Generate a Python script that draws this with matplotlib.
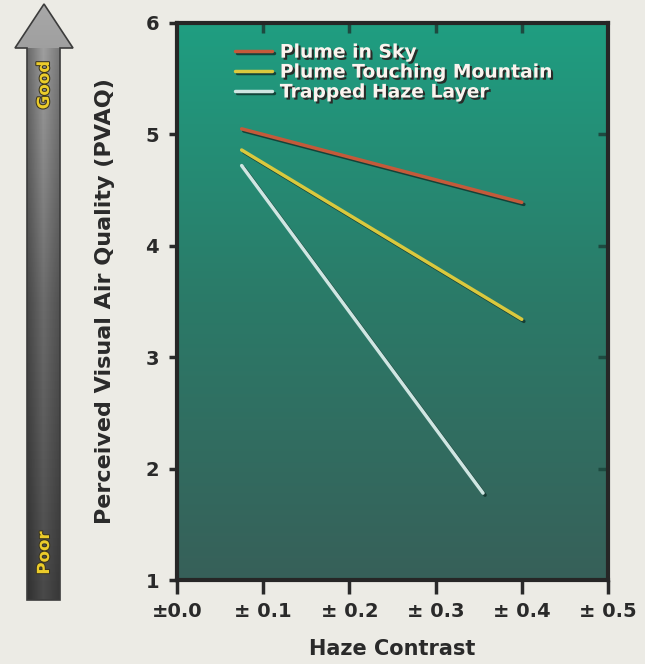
import numpy as np
import matplotlib.pyplot as plt
import matplotlib.patheffects as pe
from matplotlib.patches import Polygon
from matplotlib.colors import LinearSegmentedColormap

# data
series = ['Plume in Sky', 'Plume Touching Mountain', 'Trapped Haze Layer']
x_start = [0.075, 0.075, 0.075]
x_end = [0.40, 0.40, 0.355]
y_start = [5.05, 4.86, 4.72]
y_end = [4.39, 3.34, 1.78]
colors = ['#c45a3a', '#d9c93e', '#cfe6e2']

xticks = [0.0, 0.1, 0.2, 0.3, 0.4, 0.5]
xtick_labels = ['\u00b10.0', '\u00b1 0.1', '\u00b1 0.2', '\u00b1 0.3', '\u00b1 0.4', '\u00b1 0.5']
yticks = [1, 2, 3, 4, 5, 6]

bg = '#ecebe5'
plt.rcParams['font.family'] = ['DejaVu Sans']
plt.rcParams['font.weight'] = 'bold'

fig = plt.figure(figsize=(6.45, 6.64), dpi=100, facecolor=bg)
W, H = 645, 664
ax = fig.add_axes([177 / W, 1 - 580 / H, (608 - 177) / W, (580 - 23) / H])
ax.set_facecolor(bg)

# gradient background of the plot area
cmap = LinearSegmentedColormap.from_list('bgg', ['#376059', '#2b7a68', '#1f9e81'])
grad = np.linspace(0, 1, 256).reshape(-1, 1)
ax.imshow(grad, aspect='auto', cmap=cmap, origin='lower',
          extent=[0, 0.5, 1, 6], zorder=0)

shadow = [pe.SimpleLineShadow(offset=(1.5, -1.5), shadow_color='#10302a', alpha=0.8), pe.Normal()]
for name, x0, x1, y0, y1, c in zip(series, x_start, x_end, y_start, y_end, colors):
    ax.plot([x0, x1], [y0, y1], color=c, lw=2.5, label=name,
            solid_capstyle='round', path_effects=shadow, zorder=3)

ax.set_xlim(0, 0.5)
ax.set_ylim(1, 6)
ax.set_xticks(xticks)
ax.set_xticklabels(xtick_labels)
ax.set_yticks(yticks)
ax.tick_params(axis='x', direction='out', length=10, width=2.5, color='#2a2a2a',
               labelsize=14, labelcolor='#2a2a2a', pad=6)
ax.tick_params(axis='y', direction='out', length=6, width=2.5, color='#2a2a2a',
               labelsize=14, labelcolor='#2a2a2a', pad=7)
for s in ax.spines.values():
    s.set_linewidth(3)
    s.set_color('#262626')
for lab in ax.get_xticklabels() + ax.get_yticklabels():
    lab.set_fontweight('bold')

# inner ticks on top and right
ax2 = ax.secondary_xaxis('top')
ax2.set_xticks(xticks[1:-1])
ax2.set_xticklabels([])
ax2.tick_params(direction='in', length=7, width=2.5, color='#1d4a40')
ax3 = ax.secondary_yaxis('right')
ax3.set_yticks(yticks[1:-1])
ax3.set_yticklabels([])
ax3.tick_params(direction='in', length=7, width=2.5, color='#1d4a40')

ax.set_xlabel('Haze Contrast', fontsize=15, fontweight='bold', color='#2a2a2a', labelpad=13)
ax.set_ylabel('Perceived Visual Air Quality (PVAQ)', fontsize=16, fontweight='bold',
              color='#2a2a2a', labelpad=22)

leg = ax.legend(loc='upper left', bbox_to_anchor=(0.095, 0.995), frameon=False,
                handlelength=2.0, handletextpad=0.4, labelspacing=0.05,
                prop={'weight': 'bold', 'size': 13.5})
for t in leg.get_texts():
    t.set_color('#fbf3ee')
    t.set_path_effects([pe.SimplePatchShadow(offset=(1.5, -1.5), shadow_rgbFace='#2a2020', alpha=0.9),
                        pe.Normal()])

# left quality arrow
ov = fig.add_axes([0, 0, 1, 1], zorder=-1)
ov.set_xlim(0, W)
ov.set_ylim(H, 0)
ov.axis('off')
arrow_pts = [(44, 4), (73, 48), (60, 48), (60, 600), (27, 600), (27, 48), (15, 48)]
poly = Polygon(arrow_pts, closed=True, facecolor='none', edgecolor='#3c3c3c', lw=1.2, zorder=2)
ov.add_patch(poly)
agrad = np.outer(np.linspace(0, 1, 256), np.ones(2))
acmap = LinearSegmentedColormap.from_list('ag', ['#a8a8a8', '#6c6c6c', '#4a4a4a'])
im = ov.imshow(agrad, cmap=acmap, aspect='auto', extent=[15, 73, 600, 4], zorder=1)
im.set_clip_path(poly)
hgrad = np.outer(np.ones(2), np.linspace(0, 1, 64))
im2 = ov.imshow(hgrad, cmap=LinearSegmentedColormap.from_list('h', [(0, 0, 0, 0.35), (0, 0, 0, 0.0), (0, 0, 0, 0.25)]),
                aspect='auto', extent=[27, 60, 600, 48], zorder=1.5)
im2.set_clip_path(poly)
txt_fx = [pe.withStroke(linewidth=1.5, foreground='#3a3520')]
ov.text(44, 85, 'Good', rotation=90, ha='center', va='center', fontsize=12,
        fontweight='bold', color='#eccc2a', path_effects=txt_fx, zorder=3)
ov.text(44, 553, 'Poor', rotation=90, ha='center', va='center', fontsize=12,
        fontweight='bold', color='#eccc2a', path_effects=txt_fx, zorder=3)

fig.savefig('out.png', dpi=100, facecolor=bg)
